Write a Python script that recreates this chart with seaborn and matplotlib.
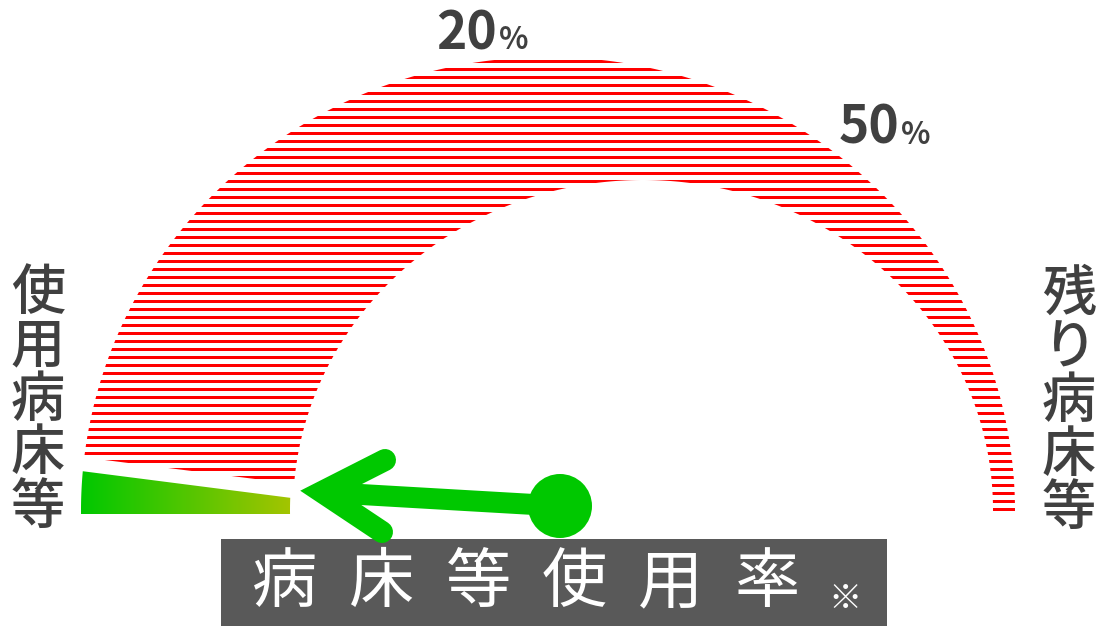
import numpy as np
import matplotlib
matplotlib.use("Agg")
import matplotlib.pyplot as plt
from matplotlib.patches import Polygon, Rectangle, Circle
from matplotlib.lines import Line2D
from matplotlib.colors import LinearSegmentedColormap
import seaborn as sns

# ---------------- data ----------------
title_chars = list("病床等使用率")
note_mark = "※"
left_label = list("使用病床等")
right_label = list("残り病床等")
scale_pct = [0, 20, 50, 100]          # gauge scale (percent)
scale_angle = [180, 90, 45, 0]        # corresponding gauge angle (deg)
tick_values = ["20", "50"]
tick_unit = "%"
used_pct = 1.6                        # current usage rate shown by the green wedge

# ---------------- style / layout ----------------
sns.set_theme(style="white")
plt.rcParams['font.family'] = ['Noto Sans CJK JP', 'DejaVu Sans']

W, H = 1099, 626
fig = plt.figure(figsize=(W / 100, H / 100), dpi=100)
ax = fig.add_axes([0, 0, 1, 1])
ax.axis('off')
PX = 72 / 100
TXT = '#404040'
GREEN = '#00c800'
RED = '#ff0000'

OC, OA, OB = (548, 511), 467, 454     # outer ellipse of gauge
IC, IA, IB = (643, 510), 350, 330     # inner ellipse of gauge
PIVOT = (548, 523)
GAP = 7


def ell(c, a, b, th):
    th = np.radians(th)
    return c[0] + a * np.cos(th), c[1] - b * np.sin(th)


def cut_theta(c, a, b, y0, s):
    th = np.linspace(150, 200, 50001)
    x, y = ell(c, a, b, th)
    f = y - (y0 + s * (x - PIVOT[0]))
    return th[np.argmin(np.abs(f))]


used_angle = np.interp(used_pct, scale_pct, scale_angle)
slope = np.tan(np.radians(180 - used_angle))

# ---- red hatched remaining region ----
y_red = PIVOT[1] - GAP
th_o = cut_theta(OC, OA, OB, y_red, slope)
th_i = cut_theta(IC, IA, IB, y_red, slope)
xo, yo = ell(OC, OA, OB, np.linspace(-0.2, th_o, 600))
xi, yi = ell(IC, IA, IB, np.linspace(th_i, -0.2, 600))
red_poly = Polygon(np.column_stack([np.r_[xo, xi], np.r_[yo, yi]]),
                   closed=True, facecolor='none', edgecolor='none',
                   transform=ax.transData)
ax.add_patch(red_poly)
stripe_y = np.arange(509, 55, -8)
lc = ax.hlines(stripe_y, 40, 1060, color=RED, lw=3 * PX)
lc.set_clip_path(red_poly)

# ---- green used wedge with gradient ----
y_grn = PIVOT[1] + GAP
th_go = cut_theta(OC, OA, OB, y_grn, slope)
th_gi = cut_theta(IC, IA, IB, y_grn, slope)
base_o = 180 + np.degrees(np.arcsin(3 / OB))
base_i = 180 + np.degrees(np.arcsin(4 / IB))
gxo, gyo = ell(OC, OA, OB, np.linspace(base_o, th_go, 60))
gxi, gyi = ell(IC, IA, IB, np.linspace(th_gi, base_i, 60))
gxi = gxi - 3
g_poly = Polygon(np.column_stack([np.r_[gxo, gxi], np.r_[gyo, gyi]]),
                 closed=True, facecolor='none', edgecolor='none',
                 transform=ax.transData)
ax.add_patch(g_poly)
cmap = LinearSegmentedColormap.from_list('g', ['#00c800', '#a4c400'])
gx0, gx1 = gxo.min(), gxi.max()
grad = np.linspace(0, 1, 256)[None, :]
im = ax.imshow(grad, extent=(gx0, gx1, 520, 460), cmap=cmap, aspect='auto',
               interpolation='bilinear', zorder=2)
im.set_clip_path(g_poly)

# ---- caption box ----
ax.add_patch(Rectangle((221, 539), 666, 100, facecolor='#595959',
                       edgecolor='none', zorder=3))
for i, ch in enumerate(title_chars):
    ax.text(285 + 96.5 * i, 584, ch, color='white', fontsize=47,
            ha='center', va='center', zorder=5)
ax.text(845, 600, note_mark, color='white', fontsize=24,
        ha='center', va='center', zorder=5)

# ---- arrow (pointer) ----
ax.add_line(Line2D([560, 335], [506, 493], color=GREEN, lw=21 * PX,
                   solid_capstyle='butt', zorder=4))
ax.add_line(Line2D([385, 322, 382], [460, 492, 532], color=GREEN,
                   lw=22 * PX, solid_joinstyle='miter',
                   solid_capstyle='round', zorder=4))
ax.add_patch(Circle((560, 506), 32, facecolor=GREEN, edgecolor='none',
                    zorder=4))

# ---- side labels ----
for i, ch in enumerate(left_label):
    ax.text(38, 293 + 53.5 * i, ch, color=TXT, fontsize=39,
            fontweight='medium', ha='center', va='center')
for i, ch in enumerate(right_label):
    ax.text(1069, 294 + 53.5 * i, ch, color=TXT, fontsize=39,
            fontweight='medium', ha='center', va='center')

# ---- tick labels ----
tick_pos = [(497, 49), (899, 144)]
for (tx, ty), v in zip(tick_pos, tick_values):
    ax.text(tx, ty, v, color=TXT, fontsize=37, fontweight='bold',
            ha='right', va='baseline')
    ax.text(tx + 2, ty, tick_unit, color=TXT, fontsize=22, fontweight='bold',
            ha='left', va='baseline')

ax.set_xlim(0, W)
ax.set_ylim(H, 0)
fig.savefig('out.png', dpi=100, facecolor='white')
